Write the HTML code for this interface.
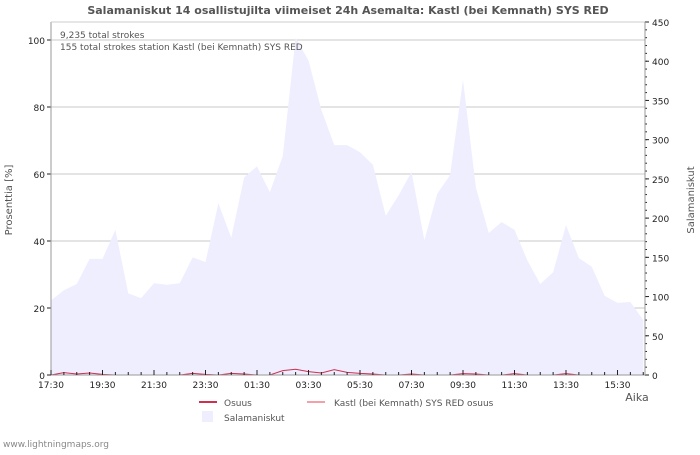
<!DOCTYPE html>
<html><head><meta charset="utf-8"><style>
body{margin:0;background:#fff;width:700px;height:450px;overflow:hidden}
svg text{font-family:"DejaVu Sans","Liberation Sans",sans-serif}
</style></head><body>
<svg id="c" width="700" height="450" xmlns="http://www.w3.org/2000/svg">
<text x="348" y="14" text-anchor="middle" font-size="11" font-weight="bold" fill="#555">Salamaniskut 14 osallistujilta viimeiset 24h Asemalta: Kastl (bei Kemnath) SYS RED</text>
<g id="grid"></g>
<path id="area" fill="#eeeeff"/>
<polyline id="line" fill="none" stroke="#d03050" stroke-width="1"/>
<g id="axes"></g>
<text x="60" y="38" font-size="9" fill="#555">9,235 total strokes</text>
<text x="60" y="50" font-size="9" fill="#555">155 total strokes station Kastl (bei Kemnath) SYS RED</text>
<text transform="translate(12,200) rotate(-90)" text-anchor="middle" font-size="10" fill="#555">Prosenttia   [%]</text>
<text transform="translate(694,200) rotate(-90)" text-anchor="middle" font-size="10" fill="#555">Salamaniskut</text>
<text x="637" y="401" text-anchor="middle" font-size="11" fill="#555">Aika</text>
<g>
<line x1="199" y1="402" x2="217" y2="402" stroke="#d03050" stroke-width="2"/>
<text x="224" y="406" font-size="9" fill="#555">Osuus</text>
<line x1="307" y1="402" x2="325" y2="402" stroke="#f4a0a8" stroke-width="2"/>
<text x="334" y="406" font-size="9" fill="#555">Kastl (bei Kemnath) SYS RED osuus</text>
<rect x="202" y="411" width="11" height="11" fill="#eeeeff"/>
<text x="224" y="421" font-size="9" fill="#555">Salamaniskut</text>
</g>
<text x="3" y="447" font-size="9" fill="#888">www.lightningmaps.org</text>
</svg>
<script>
const strokes=[95,108,116,148,148,185,104,98,117,115,117,150,144,219,175,252,266,233,279,430,401,338,293,293,284,268,203,229,259,172,231,255,376,239,181,195,185,146,116,131,191,149,138,101,92,93,70];
const share=[0,0.7,0.3,0.6,0.2,0,0,0,0,0,0,0.5,0.2,0,0.5,0.3,0,0,1.3,1.7,1.0,0.6,1.6,0.8,0.5,0.3,0,0,0.3,0,0,0,0.4,0.3,0,0,0.4,0,0,0,0.4,0,0,0,0,0,0];
const xLabels=["17:30","19:30","21:30","23:30","01:30","03:30","05:30","07:30","09:30","11:30","13:30","15:30"];
const leftTicks=[0,20,40,60,80,100];
const rightTicks=[0,50,100,150,200,250,300,350,400,450];
const X0=51,X1=645,Y0=375,YT=22,PXH=25.75;
const xs=h=>X0+h*PXH, yl=v=>Y0-v*3.35, yr=v=>Y0-v*(Y0-YT)/450;
const NS="http://www.w3.org/2000/svg";
function mk(p,t,a){const e=document.createElementNS(NS,t);for(const k in a)e.setAttribute(k,a[k]);p.appendChild(e);return e;}
const grid=document.getElementById('grid'),axes=document.getElementById('axes');
leftTicks.forEach(v=>{if(v>0){const g=mk(grid,'line',{x1:X0,x2:X1,y1:yl(v),y2:yl(v),stroke:'#c8c8c8'});

}
const t=mk(axes,'text',{x:X0-6,y:yl(v)+4,'text-anchor':'end','font-size':9,fill:'#222'});t.textContent=v;


mk(axes,'line',{x1:X0-4,x2:X0,y1:yl(v),y2:yl(v),stroke:'#222'});});
rightTicks.forEach(v=>{const t=mk(axes,'text',{x:X1+7,y:yr(v)+4,'font-size':9,fill:'#222'});t.textContent=v;


mk(axes,'line',{x1:X1,x2:X1+4,y1:yr(v),y2:yr(v),stroke:'#222'});});
for(let v=10;v<450;v+=10)mk(axes,'line',{x1:X1,x2:X1+2,y1:yr(v),y2:yr(v),stroke:'#222'});
let d=`M${xs(0)},${Y0}`;strokes.forEach((v,i)=>d+=` L${xs(i*0.5)},${yr(v)}`);d+=` L${xs((strokes.length-1)*0.5)},${Y0} Z`;
document.getElementById('area').setAttribute('d',d);
document.getElementById('line').setAttribute('points',share.map((v,i)=>`${xs(i*0.5)},${yl(v)}`).join(' '));
mk(axes,'line',{x1:X0,x2:X0,y1:YT,y2:Y0,stroke:'#999'});
mk(axes,'line',{x1:X0,x2:X1,y1:YT,y2:YT,stroke:'#ccc'});
mk(axes,'line',{x1:X0,x2:X1,y1:Y0,y2:Y0,stroke:'#999'});
mk(axes,'line',{x1:X1,x2:X1,y1:YT,y2:Y0,stroke:'#999'});
for(let h=0;h<=23;h+=0.5)mk(axes,'line',{x1:xs(h),x2:xs(h),y1:Y0-(h%2==0?5:3),y2:Y0,stroke:'#222'});
xLabels.forEach((l,i)=>{const t=mk(axes,'text',{x:xs(i*2),y:Y0+13,'text-anchor':'middle','font-size':9,fill:'#222'});t.textContent=l;

});
</script>
</body></html>
